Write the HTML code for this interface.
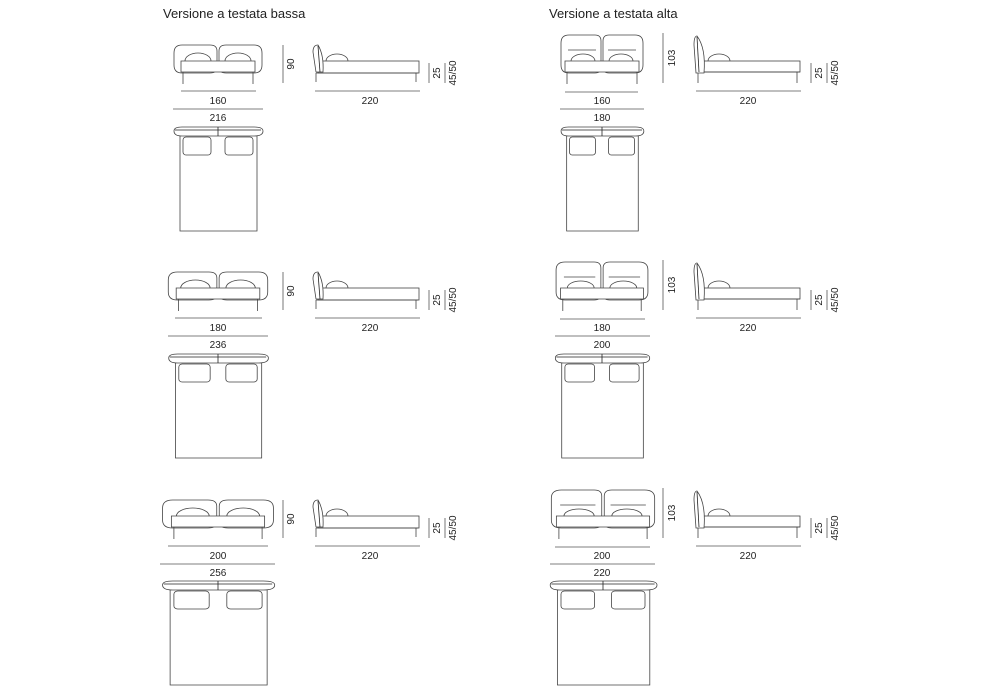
<!DOCTYPE html>
<html><head><meta charset="utf-8"><style>
html,body{margin:0;padding:0;background:#fff}
svg{display:block}
text{font-family:"Liberation Sans",sans-serif;fill:#222}
.t{font-size:13px}
.d{font-size:10px;text-anchor:middle}
</style></head><body>
<svg width="1000" height="700" viewBox="0 0 1000 700" xmlns="http://www.w3.org/2000/svg">
<defs>
<g id="fl" fill="#fff" stroke="#444" stroke-width="0.8">
 <path vector-effect="non-scaling-stroke" d="M-44,8 Q-44,0 -36,0 L-8,0 Q-1,0 -1,6 L-1,22 Q-1,28 -8,28 L-36,28 Q-44,28 -44,20Z"/>
 <path vector-effect="non-scaling-stroke" d="M44,8 Q44,0 36,0 L8,0 Q1,0 1,6 L1,22 Q1,28 8,28 L36,28 Q44,28 44,20Z"/>
 <ellipse vector-effect="non-scaling-stroke" cx="-20" cy="16" rx="13" ry="8"/>
 <ellipse vector-effect="non-scaling-stroke" cx="20" cy="16" rx="13" ry="8"/>
 <rect vector-effect="non-scaling-stroke" x="-37" y="16" width="74" height="11"/>
 <line vector-effect="non-scaling-stroke" x1="-35" y1="27" x2="-35" y2="39"/>
 <line vector-effect="non-scaling-stroke" x1="35" y1="27" x2="35" y2="39"/>
</g>
<g id="fh" fill="#fff" stroke="#444" stroke-width="0.8">
 <path vector-effect="non-scaling-stroke" d="M-41,8 Q-41,0 -33,0 L-7,0 Q-1,0 -1,6 L-1,32 Q-1,38 -7,38 L-33,38 Q-41,38 -41,30Z"/>
 <path vector-effect="non-scaling-stroke" d="M41,8 Q41,0 33,0 L7,0 Q1,0 1,6 L1,32 Q1,38 7,38 L33,38 Q41,38 41,30Z"/>
 <line vector-effect="non-scaling-stroke" x1="-34" y1="15" x2="-6" y2="15"/>
 <line vector-effect="non-scaling-stroke" x1="6" y1="15" x2="34" y2="15"/>
 <ellipse vector-effect="non-scaling-stroke" cx="-19" cy="26" rx="12" ry="7"/>
 <ellipse vector-effect="non-scaling-stroke" cx="19" cy="26" rx="12" ry="7"/>
 <rect vector-effect="non-scaling-stroke" x="-37" y="26" width="74" height="11"/>
 <line vector-effect="non-scaling-stroke" x1="-35" y1="37" x2="-35" y2="49"/>
 <line vector-effect="non-scaling-stroke" x1="35" y1="37" x2="35" y2="49"/>
</g>
<g id="tp" fill="#fff" stroke="#444" stroke-width="0.8">
 <rect vector-effect="non-scaling-stroke" x="-38" y="8" width="77" height="97"/>
 <path vector-effect="non-scaling-stroke" d="M-44,5 Q-44,1 -36,1 L36,1 Q45,1 45,5 Q45,10 36,10 L-36,10 Q-44,10 -44,5Z"/>
 <line vector-effect="non-scaling-stroke" x1="-43" y1="4" x2="43" y2="4" stroke="#222"/>
 <line vector-effect="non-scaling-stroke" x1="0" y1="1" x2="0" y2="10" stroke="#222"/>
 <rect vector-effect="non-scaling-stroke" x="-35" y="11" width="28" height="18" rx="3"/>
 <rect vector-effect="non-scaling-stroke" x="7" y="11" width="28" height="18" rx="3"/>
</g>
<g id="sl" fill="#fff" stroke="#444" stroke-width="0.8">
 <ellipse cx="337" cy="61" rx="11" ry="7"/>
 <rect x="318" y="61" width="101" height="12"/>
 <path d="M316,73 L418,73 M316,73 L316,82 M416,73 L416,82"/>
 <path d="M318,45 Q313,45 313,52 L316,72 L323,72 Q324,55 318,45Z"/>
 <line x1="318" y1="46" x2="320" y2="72" stroke="#222"/>
</g>
<g id="sh" fill="#fff" stroke="#444" stroke-width="0.8">
 <ellipse cx="719" cy="61" rx="11" ry="7"/>
 <rect x="700" y="61" width="100" height="11"/>
 <path d="M698,72 L800,72 M698,72 L698,83 M797,72 L797,83"/>
 <path d="M697,36 Q694,36 694,45 L696,73 L704,73 Q706,48 697,36Z"/>
 <line x1="697" y1="37" x2="699" y2="72" stroke="#222"/>
</g>
<g id="dl" stroke="#555" stroke-width="0.8">
 <line x1="283" y1="45" x2="283" y2="83"/>
 <line x1="315" y1="91" x2="420" y2="91"/>
 <line x1="429" y1="63" x2="429" y2="83"/>
 <line x1="445" y1="63" x2="445" y2="83"/>
</g>
<g id="dh" stroke="#555" stroke-width="0.8">
 <line x1="663" y1="33" x2="663" y2="83"/>
 <line x1="696" y1="91" x2="801" y2="91"/>
 <line x1="811" y1="63" x2="811" y2="83"/>
 <line x1="827" y1="63" x2="827" y2="83"/>
</g>
</defs>

<text class="t" x="163" y="18">Versione a testata bassa</text>
<text class="t" x="549" y="18">Versione a testata alta</text>

<use href="#fl" transform="translate(218,45)"/>
<use href="#tp" transform="translate(218,126)"/>
<use href="#sl"/><use href="#dl"/>
<line x1="181" y1="91" x2="256" y2="91" stroke="#555" stroke-width="0.8"/>
<line x1="173" y1="109" x2="263" y2="109" stroke="#555" stroke-width="0.8"/>
<text class="d" x="218" y="104">160</text><text class="d" x="218" y="121">216</text>
<text class="d" x="370" y="104">220</text>
<text class="d" transform="translate(294,64) rotate(-90)">90</text>
<text class="d" transform="translate(440,73) rotate(-90)">25</text>
<text class="d" transform="translate(456,73) rotate(-90)">45/50</text>

<g transform="translate(0,227)"><use href="#sl"/><use href="#dl"/>
<text class="d" x="370" y="104">220</text>
<text class="d" transform="translate(294,64) rotate(-90)">90</text>
<text class="d" transform="translate(440,73) rotate(-90)">25</text>
<text class="d" transform="translate(456,73) rotate(-90)">45/50</text></g>
<use href="#fl" transform="translate(218,272) scale(1.13,1)"/>
<use href="#tp" transform="translate(218,353) scale(1.12,1)"/>
<line x1="175" y1="318" x2="262" y2="318" stroke="#555" stroke-width="0.8"/>
<line x1="168" y1="336" x2="268" y2="336" stroke="#555" stroke-width="0.8"/>
<text class="d" x="218" y="331">180</text><text class="d" x="218" y="348">236</text>

<g transform="translate(0,455)"><use href="#sl"/><use href="#dl"/>
<text class="d" x="370" y="104">220</text>
<text class="d" transform="translate(294,64) rotate(-90)">90</text>
<text class="d" transform="translate(440,73) rotate(-90)">25</text>
<text class="d" transform="translate(456,73) rotate(-90)">45/50</text></g>
<use href="#fl" transform="translate(218,500) scale(1.26,1)"/>
<use href="#tp" transform="translate(218,580) scale(1.26,1)"/>
<line x1="168" y1="546" x2="268" y2="546" stroke="#555" stroke-width="0.8"/>
<line x1="160" y1="564" x2="275" y2="564" stroke="#555" stroke-width="0.8"/>
<text class="d" x="218" y="559">200</text><text class="d" x="218" y="576">256</text>

<use href="#fh" transform="translate(602,35)"/>
<use href="#tp" transform="translate(602,126) scale(0.93,1)"/>
<use href="#sh"/><use href="#dh"/>
<line x1="565" y1="92" x2="638" y2="92" stroke="#555" stroke-width="0.8"/>
<line x1="560" y1="109" x2="644" y2="109" stroke="#555" stroke-width="0.8"/>
<text class="d" x="602" y="104">160</text><text class="d" x="602" y="121">180</text>
<text class="d" x="748" y="104">220</text>
<text class="d" transform="translate(675,58) rotate(-90)">103</text>
<text class="d" transform="translate(822,73) rotate(-90)">25</text>
<text class="d" transform="translate(838,73) rotate(-90)">45/50</text>

<g transform="translate(0,227)"><use href="#sh"/><use href="#dh"/>
<text class="d" x="748" y="104">220</text>
<text class="d" transform="translate(675,58) rotate(-90)">103</text>
<text class="d" transform="translate(822,73) rotate(-90)">25</text>
<text class="d" transform="translate(838,73) rotate(-90)">45/50</text></g>
<use href="#fh" transform="translate(602,262) scale(1.12,1)"/>
<use href="#tp" transform="translate(602,353) scale(1.06,1)"/>
<line x1="560" y1="319" x2="645" y2="319" stroke="#555" stroke-width="0.8"/>
<line x1="555" y1="336" x2="650" y2="336" stroke="#555" stroke-width="0.8"/>
<text class="d" x="602" y="331">180</text><text class="d" x="602" y="348">200</text>

<g transform="translate(0,455)"><use href="#sh"/><use href="#dh"/>
<text class="d" x="748" y="104">220</text>
<text class="d" transform="translate(675,58) rotate(-90)">103</text>
<text class="d" transform="translate(822,73) rotate(-90)">25</text>
<text class="d" transform="translate(838,73) rotate(-90)">45/50</text></g>
<use href="#fh" transform="translate(603,490) scale(1.26,1)"/>
<use href="#tp" transform="translate(603,580) scale(1.2,1)"/>
<line x1="555" y1="547" x2="650" y2="547" stroke="#555" stroke-width="0.8"/>
<line x1="550" y1="564" x2="655" y2="564" stroke="#555" stroke-width="0.8"/>
<text class="d" x="602" y="559">200</text><text class="d" x="602" y="576">220</text>
</svg>
</body></html>
